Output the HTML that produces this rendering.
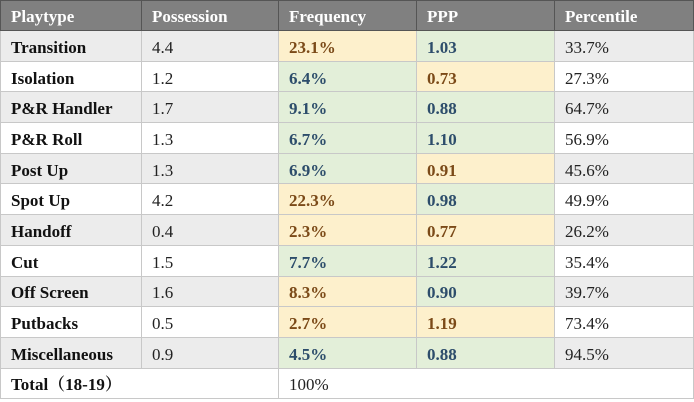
<!DOCTYPE html>
<html><head><meta charset="utf-8"><style>
body{margin:0;width:694px;height:402px;background:#fff;overflow:hidden}
table{position:absolute;left:0;top:0;width:693px;border-collapse:collapse;font-family:"Liberation Serif","Noto Serif CJK SC",serif;font-size:17px;table-layout:fixed;border:1.5px solid #333}
td,th{height:25.7px;padding:4px 0 0 10px;border:1px solid #c8c8c8;text-align:left;white-space:nowrap;line-height:20px;overflow:hidden}
th{background:#808080;color:#fff;font-weight:bold;height:26px;padding-top:3px;border-color:#555}
td.n{font-weight:bold;color:#111}
tr.g td{background:#ececec}
tr td.y{background:#fdf0cc;color:#7b4a18;font-weight:bold}
tr td.gr{background:#e3efd9;color:#2d4d6b;font-weight:bold}
td{color:#222}
</style></head><body>
<table>
<colgroup><col style="width:141px"><col style="width:137px"><col style="width:138px"><col style="width:138px"><col style="width:139px"></colgroup>
<tr><th>Playtype</th><th>Possession</th><th>Frequency</th><th>PPP</th><th>Percentile</th></tr>
<tr class="g"><td class="n">Transition</td><td>4.4</td><td class="y">23.1%</td><td class="gr">1.03</td><td>33.7%</td></tr>
<tr><td class="n">Isolation</td><td>1.2</td><td class="gr">6.4%</td><td class="y">0.73</td><td>27.3%</td></tr>
<tr class="g"><td class="n">P&amp;R Handler</td><td>1.7</td><td class="gr">9.1%</td><td class="gr">0.88</td><td>64.7%</td></tr>
<tr><td class="n">P&amp;R Roll</td><td>1.3</td><td class="gr">6.7%</td><td class="gr">1.10</td><td>56.9%</td></tr>
<tr class="g"><td class="n">Post Up</td><td>1.3</td><td class="gr">6.9%</td><td class="y">0.91</td><td>45.6%</td></tr>
<tr><td class="n">Spot Up</td><td>4.2</td><td class="y">22.3%</td><td class="gr">0.98</td><td>49.9%</td></tr>
<tr class="g"><td class="n">Handoff</td><td>0.4</td><td class="y">2.3%</td><td class="y">0.77</td><td>26.2%</td></tr>
<tr><td class="n">Cut</td><td>1.5</td><td class="gr">7.7%</td><td class="gr">1.22</td><td>35.4%</td></tr>
<tr class="g"><td class="n">Off Screen</td><td>1.6</td><td class="y">8.3%</td><td class="gr">0.90</td><td>39.7%</td></tr>
<tr><td class="n">Putbacks</td><td>0.5</td><td class="y">2.7%</td><td class="y">1.19</td><td>73.4%</td></tr>
<tr class="g"><td class="n">Miscellaneous</td><td>0.9</td><td class="gr">4.5%</td><td class="gr">0.88</td><td>94.5%</td></tr>
<tr><td class="n" colspan="2">Total（18-19）</td><td colspan="3">100%</td></tr>
</table>
</body></html>
